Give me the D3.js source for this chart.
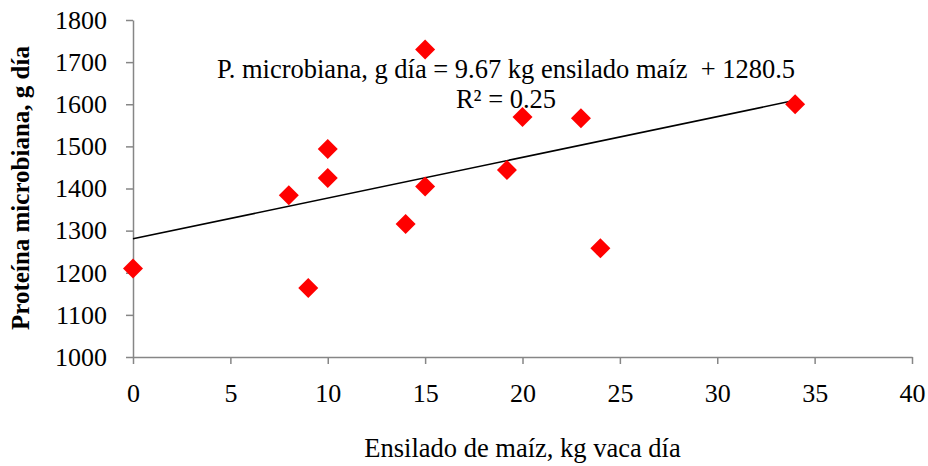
<!DOCTYPE html>
<html>
<head>
<meta charset="utf-8">
<script src="https://cdn.jsdelivr.net/npm/d3@7"></script>
<style>
  html, body { margin: 0; padding: 0; background: #fff; }
  svg { display: block; }
  text { font-family: "Liberation Serif", "Times New Roman", serif; fill: #000; }
</style>
</head>
<body>
<svg id="chart" width="928" height="466"></svg>
<script>
// Ensilado de maíz (kg vaca día) vs proteína microbiana (g día)
const silageKg = [0, 8, 9, 10, 10, 14, 15, 15, 19.2, 20, 23, 24, 34];
const microbialProtein = [1210, 1384, 1164, 1494, 1425, 1316, 1405, 1730, 1444, 1570, 1567, 1258, 1600];
const xTicks = [0, 5, 10, 15, 20, 25, 30, 35, 40];
const yTicks = [1000, 1100, 1200, 1300, 1400, 1500, 1600, 1700, 1800];
const trendSlope = 9.67;
const trendIntercept = 1280.5;
const trendRange = [0, 34];
const equationLines = ["P. microbiana, g día = 9.67 kg ensilado maíz  + 1280.5", "R² = 0.25"];

const svg = d3.select("#chart");
const margin = { left: 133, right: 16, top: 20, bottom: 109 };
const W = 928, H = 466;

const x = d3.scaleLinear().domain([0, 40]).range([margin.left, W - margin.right]);
const y = d3.scaleLinear().domain([1000, 1800]).range([H - margin.bottom, margin.top]);

const axisColor = "#868686";
const tickFont = 26;

// X axis
const gx = svg.append("g")
  .attr("transform", `translate(0,${y(1000)})`)
  .call(d3.axisBottom(x).tickValues(xTicks).tickFormat(d3.format("d"))
    .tickSize(7).tickPadding(20).tickSizeOuter(0));
// Y axis
const gy = svg.append("g")
  .attr("transform", `translate(${x(0)},0)`)
  .call(d3.axisLeft(y).tickValues(yTicks).tickFormat(d3.format("d"))
    .tickSize(7).tickPadding(19).tickSizeOuter(0));

[gx, gy].forEach(g => {
  g.attr("font-size", tickFont).attr("font-family", null);
  g.select(".domain").attr("stroke", axisColor).attr("stroke-width", 1.5);
  g.selectAll(".tick line").attr("stroke", axisColor).attr("stroke-width", 1.5);
  g.selectAll(".tick text").attr("fill", "#000");
});

// Linear trend line
svg.append("line")
  .attr("x1", x(trendRange[0])).attr("y1", y(trendIntercept + trendSlope * trendRange[0]))
  .attr("x2", x(trendRange[1])).attr("y2", y(trendIntercept + trendSlope * trendRange[1]))
  .attr("stroke", "#000").attr("stroke-width", 1.6);

// Diamond markers
const diamond = d3.symbol().type(d3.symbolSquare).size(200);
svg.append("g").selectAll("path")
  .data(silageKg.map((v, i) => [v, microbialProtein[i]]))
  .join("path")
  .attr("d", diamond)
  .attr("transform", d => `translate(${x(d[0])},${y(d[1])}) rotate(45)`)
  .attr("fill", "#ff0000");

// Regression equation
const eq = svg.append("text")
  .attr("text-anchor", "middle")
  .attr("font-size", 26.5)
  .style("white-space", "pre");
eq.append("tspan").attr("x", 506).attr("y", 78).text(equationLines[0]);
eq.append("tspan").attr("x", 506).attr("y", 108).text(equationLines[1]);

// Axis titles
svg.append("text")
  .attr("x", x(20)).attr("y", 457)
  .attr("text-anchor", "middle")
  .attr("font-size", 26.5)
  .text("Ensilado de maíz, kg vaca día");

svg.append("text")
  .attr("transform", `translate(29,188) rotate(-90)`)
  .attr("text-anchor", "middle")
  .attr("font-size", 25)
  .attr("font-weight", "bold")
  .text("Proteína microbiana, g día");
</script>
</body>
</html>
